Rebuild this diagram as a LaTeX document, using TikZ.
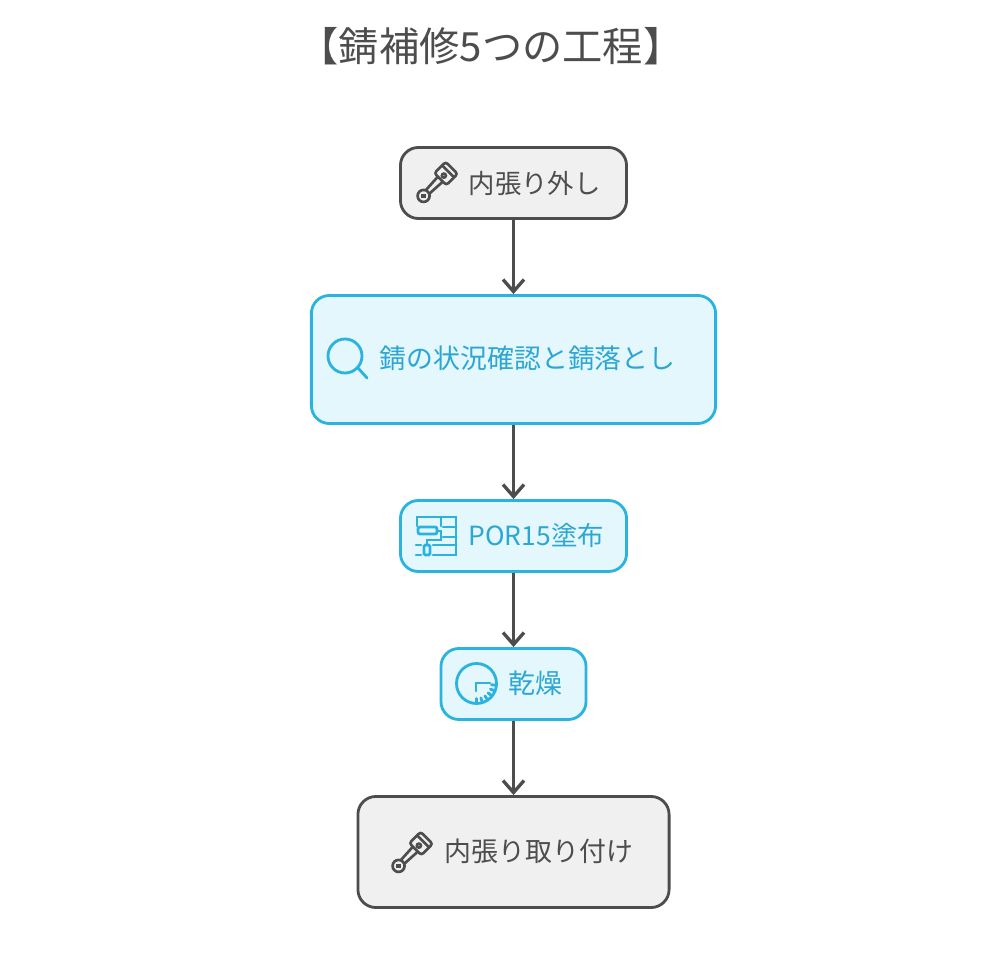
\documentclass[tikz,border=0pt]{standalone}
\usepackage{fontspec}
\setmainfont{Noto Sans CJK JP}
\usetikzlibrary{arrows.meta}
\definecolor{graybd}{HTML}{4D4D4D}
\definecolor{grayfl}{HTML}{F0F0F0}
\definecolor{bluebd}{HTML}{2BB3DF}
\definecolor{bluefl}{HTML}{E3F7FD}
\definecolor{bluetx}{HTML}{2CA6D2}
\tikzset{
    graybox/.style={draw=graybd, fill=grayfl, line width=0.8pt, rounded corners=0.18cm},
    bluebox/.style={draw=bluebd, fill=bluefl, line width=0.8pt, rounded corners=0.18cm},
    graylabel/.style={anchor=west, inner sep=0pt, text=graybd, font=\fontsize{7.65pt}{9pt}\selectfont},
    bluelabel/.style={anchor=west, inner sep=0pt, text=bluetx, font=\fontsize{7.65pt}{9pt}\selectfont},
    smalltext/.style={font=\fontsize{7.5pt}{9pt}\selectfont},
    flow/.style={draw=graybd, line width=0.95pt, -{Straight Barb[length=1.2mm,width=2.1mm]}},
    piston/.pic={
        \begin{scope}[rotate=45, draw=graybd, line width=0.75pt]
            \draw (-31.7,0) circle (6);
            \draw (-31.7,0) circle (1.5);
            \draw (-26,-2.5) -- (-8,-3.5) (-26,2.5) -- (-8,3.5);
            \draw[rounded corners=0.8pt] (-8,-8.5) rectangle (8,8.5);
            \draw (3,-8.5) -- (3,8.5);
            \draw (-3,0) circle (2);
        \end{scope}
    }
}
\begin{document}
\begin{tikzpicture}[x=0.01cm, y=-0.01cm]
    \useasboundingbox (0,0) rectangle (1000,955);
    \node[inner sep=0pt, text=graybd, font=\fontsize{11.45pt}{14pt}\selectfont] (title) at (491,46) {【錆補修5つの工程】};
    % boxes
    \node[graybox, minimum width=2.26cm, minimum height=0.71cm] (unmount) at (513.5,183) {};
    \node[bluebox, minimum width=4.04cm, minimum height=1.28cm] (inspect) at (513.5,359.5) {};
    \node[bluebox, minimum width=2.26cm, minimum height=0.71cm] (paint) at (513.5,536) {};
    \node[bluebox, minimum width=1.45cm, minimum height=0.71cm] (dry) at (513.5,684) {};
    \node[graybox, minimum width=3.11cm, minimum height=1.11cm] (mount) at (513.5,852) {};
    % connectors
    \draw[flow] (unmount) -- (inspect);
    \draw[flow] (inspect) -- (paint);
    \draw[flow] (paint) -- (dry);
    \draw[flow] (dry) -- (mount);
    % labels
    \node[graylabel, smalltext] (unmounttext) at (468,183) {内張り外し};
    \node[bluelabel] (inspecttext) at (379,358) {錆の状況確認と錆落とし};
    \node[bluelabel, smalltext] (painttext) at (468,535) {POR15塗布};
    \node[bluelabel] (drytext) at (508,683) {乾燥};
    \node[graylabel] (mounttext) at (444,851) {内張り取り付け};
    % icons
    \pic at (446,173.5) {piston};
    \pic at (421,843.5) {piston};
    \begin{scope}[draw=bluebd, line width=0.8pt, line cap=round]
        \draw (345,356) circle (17);
        \draw (358,368) -- (367,378);
        % roller
        \draw (417,526) -- (417,517) -- (456,517) -- (456,555) -- (433,555);
        \draw (441,517) -- (441,526);
        \draw (443,527) -- (456,527) (443,537) -- (456,537) (433,545) -- (456,545);
        \draw[rounded corners=0.6pt] (418,527) rectangle (437,534);
        \draw (437,531) -- (441,531) -- (441,540) -- (427,540) -- (427,545);
        \draw[rounded corners=0.4pt] (424,545) rectangle (430,555);
        \draw (416,545) -- (421,545) (416,555) -- (421,555);
        % clock
        \draw (476.5,683.5) circle (20);
        \draw (490,683) -- (476,683) -- (476,691);
        \foreach \ang in {5,22,39,56,73,90} {
            \draw (476.5,683.5) ++(\ang:15) -- ++(\ang:5);
        }
    \end{scope}
\end{tikzpicture}
\end{document}
